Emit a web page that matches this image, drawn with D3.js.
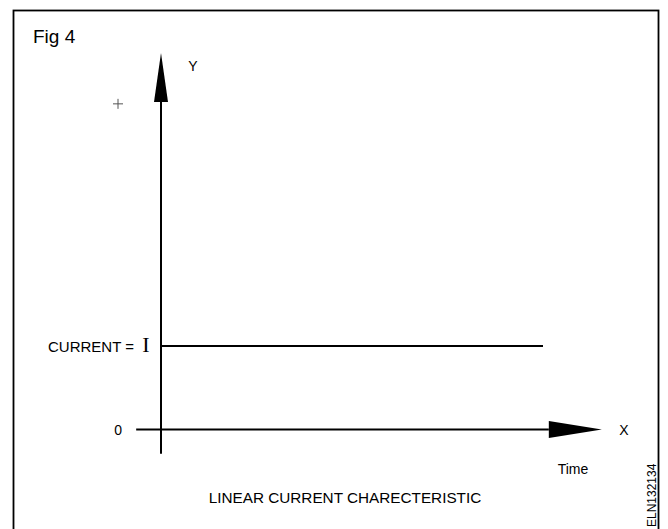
<!DOCTYPE html>
<html>
<head>
<meta charset="utf-8">
<script src="https://cdn.jsdelivr.net/npm/d3@7"></script>
<style>
  html, body { margin: 0; padding: 0; background: #fff; }
  svg { display: block; }
  text { font-family: "Liberation Sans", Arial, Helvetica, sans-serif; fill: #000; }
</style>
</head>
<body>
<svg id="chart" width="668" height="529"></svg>
<script>
// ---- data ----
const timeValues = [0, 1];          // start / end of observed time span
const currentValues = [1, 1];       // constant current I (normalised)
const currentLevel = 1;             // I
const zeroLevel = 0;
const plusLevel = 3.9;              // "+" marker on the Y side
const xAxisExtent = [-0.065, 1.154]; // axis drawn a bit past the data
const yAxisExtent = [-0.29, 4.51];
const figureTitle = "Fig 4";
const chartCaption = "LINEAR CURRENT CHARECTERISTIC";
const xAxisName = "X";
const yAxisName = "Y";
const xAxisUnit = "Time";
const currentLabel = "CURRENT =";
const currentSymbol = "I";
const refCode = "ELN132134";

// ---- layout ----
const svg = d3.select("#chart");
const x = d3.scaleLinear().domain([0, 1]).range([161, 543]);
const y = d3.scaleLinear().domain([0, 1]).range([429.5, 346]);

// frame
svg.append("rect")
  .attr("x", 13.5).attr("y", 10.5)
  .attr("width", 645).attr("height", 540)
  .attr("fill", "none").attr("stroke", "#000").attr("stroke-width", 1.8);

// title
svg.append("text").attr("x", 33).attr("y", 43)
  .attr("font-size", 19).text(figureTitle);

// Y axis line
const yTip = y(yAxisExtent[1]);
const yHeadBase = yTip + 49;
svg.append("line")
  .attr("x1", x(0)).attr("x2", x(0))
  .attr("y1", y(yAxisExtent[0])).attr("y2", yHeadBase)
  .attr("stroke", "#000").attr("stroke-width", 2);
svg.append("path")
  .attr("d", `M${x(0)},${yTip} L${x(0) + 7},${yHeadBase} L${x(0) - 7},${yHeadBase} Z`)
  .attr("fill", "#000");

// X axis line
const xTip = x(xAxisExtent[1]);
const xHeadBase = xTip - 53;
svg.append("line")
  .attr("x1", x(xAxisExtent[0])).attr("x2", xHeadBase)
  .attr("y1", y(zeroLevel)).attr("y2", y(zeroLevel))
  .attr("stroke", "#000").attr("stroke-width", 2);
svg.append("path")
  .attr("d", `M${xTip},${y(zeroLevel)} L${xHeadBase},${y(zeroLevel) - 8.5} L${xHeadBase},${y(zeroLevel) + 8.5} Z`)
  .attr("fill", "#000");

// current series
const line = d3.line().x((d, i) => x(timeValues[i])).y(d => y(d));
svg.append("path")
  .datum(currentValues)
  .attr("d", line)
  .attr("fill", "none").attr("stroke", "#000").attr("stroke-width", 2);

// "+" marker
const px = 118, py = y(plusLevel);
svg.append("path")
  .attr("d", `M${px - 5},${py} H${px + 5} M${px},${py - 5} V${py + 5}`)
  .attr("stroke", "#555").attr("stroke-width", 1);

// labels
svg.append("text").attr("x", 193).attr("y", 67).attr("text-anchor", "middle")
  .attr("dominant-baseline", "middle").attr("font-size", 14).text(yAxisName);
svg.append("text").attr("x", 624).attr("y", 431).attr("text-anchor", "middle")
  .attr("dominant-baseline", "middle").attr("font-size", 14).text(xAxisName);
svg.append("text").attr("x", 573).attr("y", 474).attr("text-anchor", "middle")
  .attr("font-size", 14).text(xAxisUnit);
svg.append("text").attr("x", 122).attr("y", y(zeroLevel) + 5.5).attr("text-anchor", "end")
  .attr("font-size", 14).text("0");

svg.append("text").attr("x", 134).attr("y", y(currentLevel) + 5.5).attr("text-anchor", "end")
  .attr("font-size", 15).attr("textLength", 86).text(currentLabel);
svg.append("text").attr("x", 146).attr("y", y(currentLevel) + 5.5).attr("text-anchor", "middle")
  .style("font-family", "'Liberation Serif', 'Times New Roman', serif")
  .attr("font-size", 22).text(currentSymbol);

svg.append("text").attr("x", 345).attr("y", 503).attr("text-anchor", "middle")
  .attr("font-size", 15.3).text(chartCaption);

svg.append("text")
  .attr("transform", "translate(656,527) rotate(-90)")
  .attr("font-size", 12).text(refCode);
</script>
</body>
</html>
